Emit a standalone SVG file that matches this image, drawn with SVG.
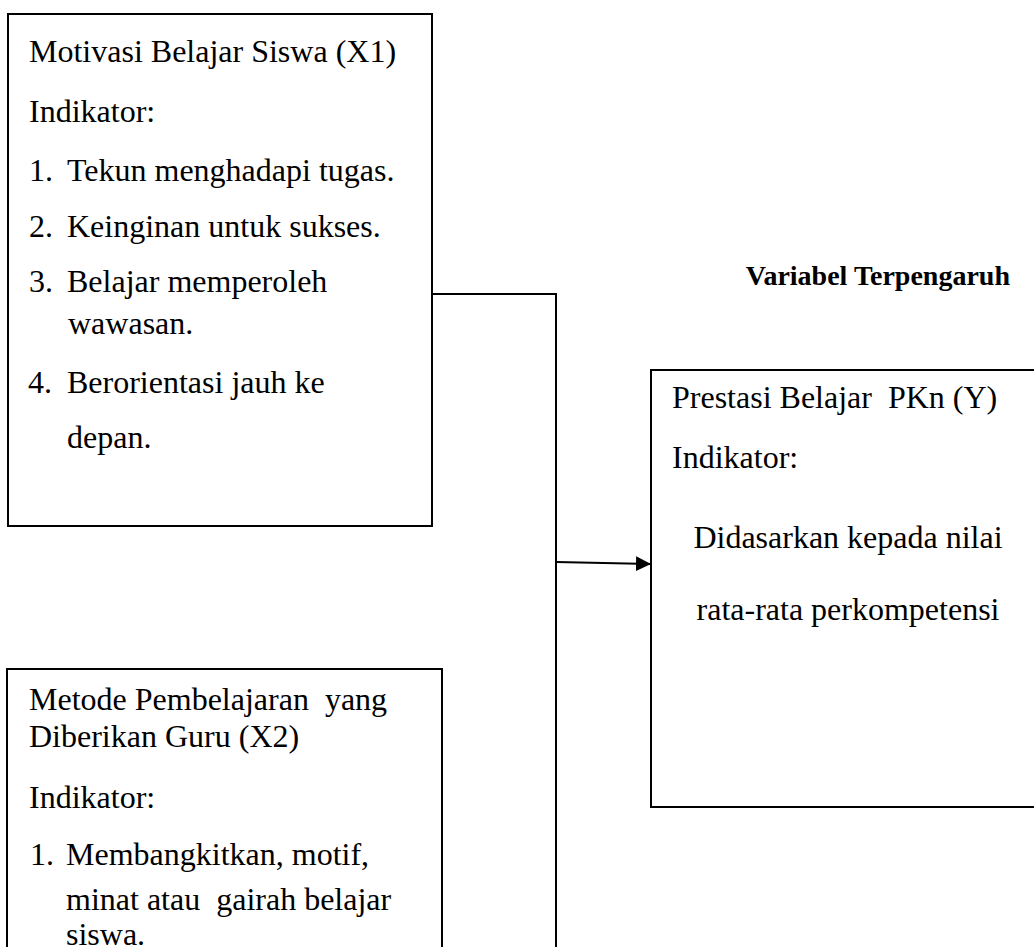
<svg xmlns="http://www.w3.org/2000/svg" width="1034" height="947" viewBox="0 0 1034 947">
<style>
.box{fill:#fff;stroke:#000;stroke-width:2}
.t{font-family:"Liberation Serif","Times New Roman",serif;font-size:32px;fill:#000}
.h{font-family:"Liberation Serif","Times New Roman",serif;font-size:28px;font-weight:bold;fill:#000}
.c{fill:none;stroke:#000;stroke-width:2}
</style>
<defs>
<marker id="arr" markerUnits="userSpaceOnUse" markerWidth="16" markerHeight="16" refX="15" refY="8" orient="auto">
<path d="M0,0.5 L15,8 L0,15.5 Z" fill="#000"/>
</marker>
</defs>
<rect width="1034" height="947" fill="#fff"/>
<g id="connectors">
<polyline class="c" points="432,294 556,294 556,950"/>
<line class="c" x1="556" y1="562" x2="651" y2="564" marker-end="url(#arr)"/>
</g>
<g id="x1">
<rect class="box" x="8" y="14" width="424" height="512"/>
<text class="t" x="29" y="62">Motivasi Belajar Siswa (X1)</text>
<text class="t" x="29" y="122">Indikator:</text>
<text class="t" x="29" y="181">1.</text><text class="t" x="67" y="181">Tekun menghadapi tugas.</text>
<text class="t" x="29" y="237">2.</text><text class="t" x="67" y="237">Keinginan untuk sukses.</text>
<text class="t" x="29" y="292">3.</text><text class="t" x="67" y="292">Belajar memperoleh</text>
<text class="t" x="68" y="334">wawasan.</text>
<text class="t" x="28" y="393">4.</text><text class="t" x="67" y="393">Berorientasi jauh ke</text>
<text class="t" x="67" y="448">depan.</text>
</g>
<g id="x2">
<rect class="box" x="7" y="669" width="435" height="300"/>
<text class="t" x="29" y="710" xml:space="preserve">Metode Pembelajaran  yang</text>
<text class="t" x="29" y="747">Diberikan Guru (X2)</text>
<text class="t" x="29" y="808">Indikator:</text>
<text class="t" x="30" y="865">1.</text><text class="t" x="66" y="865">Membangkitkan, motif,</text>
<text class="t" x="66" y="910" xml:space="preserve">minat atau  gairah belajar</text>
<text class="t" x="66" y="945">siswa.</text>
</g>
<g id="label">
<text class="h" x="1010" y="285" text-anchor="end">Variabel Terpengaruh</text>
</g>
<g id="y">
<rect class="box" x="651" y="370" width="400" height="437"/>
<text class="t" x="672" y="408" xml:space="preserve">Prestasi Belajar  PKn (Y)</text>
<text class="t" x="672" y="468">Indikator:</text>
<text class="t" x="848" y="548" text-anchor="middle">Didasarkan kepada nilai</text>
<text class="t" x="848" y="620" text-anchor="middle">rata-rata perkompetensi</text>
</g>
</svg>
